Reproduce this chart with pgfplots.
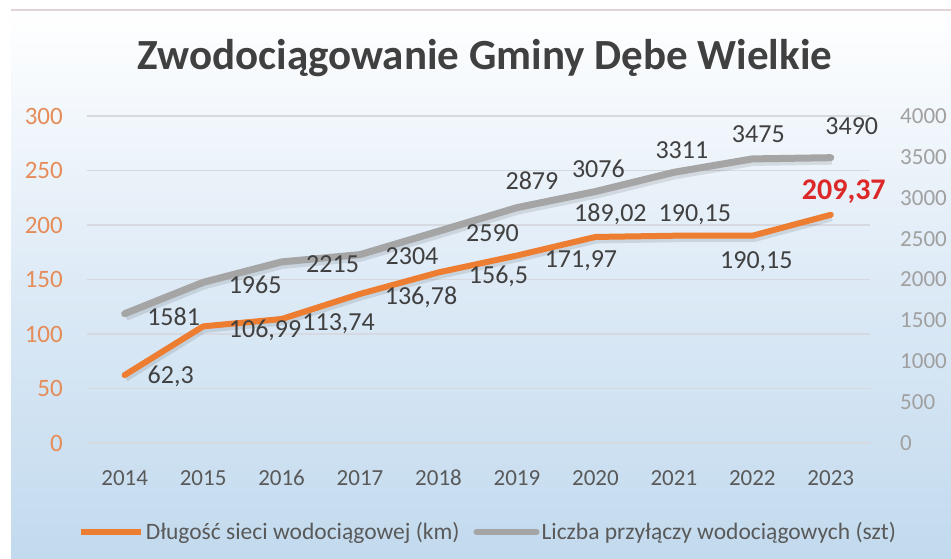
\documentclass[border=0pt]{standalone}
\usepackage{fontspec}
\setmainfont{Carlito}
\usepackage{pgfplots}
\usepackage{pgfplotstable}
\pgfplotsset{compat=1.18}
\definecolor{orng}{RGB}{237,125,49}
\definecolor{gry}{RGB}{165,165,165}
\definecolor{lblorng}{RGB}{229,140,88}
\definecolor{lblgray}{RGB}{160,160,160}
\definecolor{txtdark}{RGB}{64,64,64}
\definecolor{txtmid}{RGB}{89,89,89}
\definecolor{bgbot}{RGB}{194,218,238}
\definecolor{bgmid}{RGB}{221,234,246}
\definecolor{gridc}{RGB}{214,218,224}
\definecolor{redl}{RGB}{220,40,40}
\definecolor{topline}{RGB}{226,212,212}

\pgfplotstableread{
year km label dx dy
0 62.3 62,3 46 -8
1 106.99 106,99 62 -11
2 113.74 113,74 57 -11
3 136.78 136,78 61 -11
4 156.5 156,5 60 -11
5 171.97 171,97 64 -12
6 189.02 189,02 15 15
7 190.15 190,15 21 14
8 190.15 190,15 4 -33
9 209.37 209,37 13 15
}\dlugosc

\pgfplotstableread{
year szt label dx dy
0 1581 1581 49 -12
1 1965 1965 52 -11
2 2215 2215 51 -11
3 2304 2304 52 -10
4 2590 2590 54 -10
5 2879 2879 15 18
6 3076 3076 3 14
7 3311 3311 8 14
8 3475 3475 6 16
9 3490 3490 21 23
}\przylacza

\begin{document}
\begin{tikzpicture}
\path[fill=white, use as bounding box] (0pt,0pt) rectangle (951pt,559pt);
\shade[top color=white, bottom color=bgbot, middle color=bgmid] (11pt,0pt) rectangle (951pt,549pt);
\draw[topline, line width=1.5pt] (11pt,549pt) -- (951pt,549pt);
\node[anchor=base, font=\bfseries\fontsize{43}{48}\selectfont, text=txtdark] at (485pt,489pt) {Zwodociągowanie Gminy Dębe Wielkie};

\begin{axis}[
  at={(87pt,116pt)}, anchor=south west,
  scale only axis, width=783pt, height=327pt,
  xmin=-0.48, xmax=9.5, ymin=0, ymax=300,
  xtick={0,...,9}, xticklabels={2014,2015,2016,2017,2018,2019,2020,2021,2022,2023},
  ytick={0,50,...,300},
  axis line style={draw=none}, major tick length=0pt,
  ymajorgrids, grid style={gridc, line width=1.6pt},
  tick label style={font=\fontsize{23}{27}\selectfont},
  /pgf/number format/assume math mode=true,
  yticklabel style={text=lblorng, anchor=east, inner sep=0pt, xshift=-24pt, font=\fontsize{25}{29}\selectfont},
  xticklabel style={text=txtmid, anchor=base, inner sep=0pt, yshift=-43pt},
  clip=false,
]
\addplot[black, opacity=0.10, line width=7pt, line join=round, yshift=-3pt, xshift=1pt, mark=none, forget plot] table[x=year,y=km]{\dlugosc};
\addplot[orng, line width=6pt, line join=round, line cap=round, mark=none] table[x=year,y=km]{\dlugosc};
\addplot[draw=none, mark=none, nodes near coords, point meta=explicit symbolic,
  restrict x to domain=0:8,
  visualization depends on={\thisrow{dx}\as\dx},
  visualization depends on={\thisrow{dy}\as\dy},
  every node near coord/.append style={anchor=base, inner sep=0pt, xshift=\dx pt, yshift=\dy pt, text=txtdark, font=\fontsize{26}{30}\selectfont}]
  table[x=year, y=km, meta=label]{\dlugosc};
\addplot[draw=none, mark=none, nodes near coords, point meta=explicit symbolic,
  restrict x to domain=9:9,
  visualization depends on={\thisrow{dx}\as\dx},
  visualization depends on={\thisrow{dy}\as\dy},
  every node near coord/.append style={anchor=base, inner sep=0pt, xshift=\dx pt, yshift=\dy pt, text=redl, font=\bfseries\fontsize{30}{34}\selectfont}]
  table[x=year, y=km, meta=label]{\dlugosc};
\end{axis}

\begin{axis}[
  at={(87pt,116pt)}, anchor=south west,
  scale only axis, width=783pt, height=327pt,
  xmin=-0.48, xmax=9.5, ymin=0, ymax=4000,
  ytick={0,500,...,4000},
  axis y line*=right, axis x line=none,
  axis line style={draw=none}, major tick length=0pt,
  tick label style={font=\fontsize{23}{27}\selectfont},
  /pgf/number format/assume math mode=true,
  /pgf/number format/1000 sep={},
  yticklabel style={text=lblgray, anchor=west, inner sep=0pt, xshift=30pt},
  clip=false,
  legend style={at={(0.512,-0.272)}, anchor=center, draw=none, fill=none,
    font=\fontsize{23.5}{28}\selectfont, text=txtmid, legend columns=2,
    nodes={inner sep=2pt},
    /tikz/every even column/.append style={column sep=12pt}},
  legend cell align=left,
  legend image code/.code={\draw[#1, line width=6pt] (0pt,0pt) -- (60pt,0pt);},
]
\addlegendimage{orng}
\addlegendentry{Długość sieci wodociągowej (km)}
\addplot[black, opacity=0.10, line width=8pt, line join=round, yshift=-3pt, xshift=1pt, mark=none, forget plot] table[x=year,y=szt]{\przylacza};
\addplot[gry, line width=7pt, line join=round, line cap=round, mark=none] table[x=year,y=szt]{\przylacza};
\addlegendentry{Liczba przyłączy wodociągowych (szt)}
\addplot[draw=none, mark=none, nodes near coords, point meta=explicit symbolic, forget plot,
  visualization depends on={\thisrow{dx}\as\dx},
  visualization depends on={\thisrow{dy}\as\dy},
  every node near coord/.append style={anchor=base, inner sep=0pt, xshift=\dx pt, yshift=\dy pt, text=txtdark, font=\fontsize{26}{30}\selectfont}]
  table[x=year, y=szt, meta=label]{\przylacza};
\end{axis}
\end{tikzpicture}
\end{document}
